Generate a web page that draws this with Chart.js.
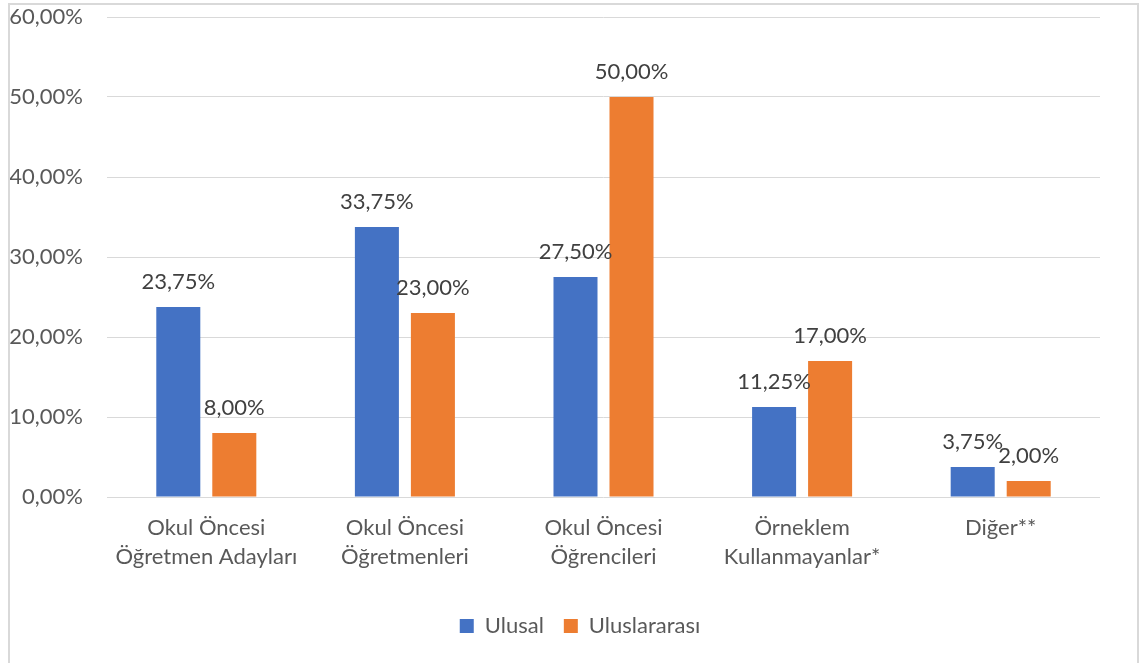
<!DOCTYPE html>
<html lang="tr">
<head>
<meta charset="utf-8">
<title>Ulusal / Uluslararası</title>
<script src="https://cdn.jsdelivr.net/npm/chart.js@4/dist/chart.umd.min.js"></script>
<style>
    html, body { margin: 0; padding: 0; background: #fff; }
    #wrap { position: relative; width: 1143px; height: 663px; overflow: hidden; }
    #frame {
        position: absolute; left: 8px; top: 3px; width: 1131px; height: 700px;
        border: 2px solid #d9d9d9; box-sizing: border-box; pointer-events: none;
    }
    canvas { position: absolute; left: 0; top: 0; }
</style>
</head>
<body>
<div id="wrap">
    <canvas id="barChart" width="1143" height="663"></canvas>
    <div id="frame"></div>
</div>
<script>
const categories = [
    ['Okul Öncesi', 'Öğretmen Adayları'],
    ['Okul Öncesi', 'Öğretmenleri'],
    ['Okul Öncesi', 'Öğrencileri'],
    ['Örneklem', 'Kullanmayanlar*'],
    'Diğer**'
];
const ulusal = [23.75, 33.75, 27.5, 11.25, 3.75];
const uluslararasi = [8, 23, 50, 17, 2];

const FONT = 'Lato, "Open Sans", sans-serif';

// yüzde biçimi: 23,75%
function pct(v) {
    return v.toFixed(2).replace('.', ',') + '%';
}

// çubukların üstüne değer yazısı
const valueLabels = {
    id: 'valueLabels',
    afterDatasetsDraw(chart) {
        const ctx = chart.ctx;
        ctx.save();
        ctx.font = '22px ' + FONT;
        ctx.fillStyle = '#404040';
        ctx.textAlign = 'center';
        ctx.textBaseline = 'middle';
        chart.data.datasets.forEach((ds, i) => {
            chart.getDatasetMeta(i).data.forEach((bar, j) => {
                ctx.fillText(pct(ds.data[j]), bar.x, bar.y - 25);
            });
        });
        ctx.restore();
    }
};

// lejantı çerçevenin ortasına kaydır
const legendShift = {
    id: 'legendShift',
    afterLayout(chart) {
        chart.legend.left += 25;
        chart.legend.right += 25;
    }
};

const ctx = document.getElementById('barChart').getContext('2d');
const barChart = new Chart(ctx, {
    type: 'bar',
    data: {
        labels: categories,
        datasets: [{
            label: 'Ulusal',
            data: ulusal,
            backgroundColor: '#4472C4'
        }, {
            label: 'Uluslararası',
            data: uluslararasi,
            backgroundColor: '#ED7D31'
        }]
    },
    options: {
        responsive: false,
        animation: false,
        categoryPercentage: 0.564,
        barPercentage: 0.786,
        layout: {
            padding: { left: 10, right: 43, top: 17, bottom: 16 }
        },
        scales: {
            x: {
                grid: { display: false, drawTicks: false },
                border: { display: false },
                ticks: {
                    color: '#595959',
                    font: { family: FONT, size: 22, lineHeight: 1.32 },
                    padding: 16,
                    maxRotation: 0
                },
                afterFit(scale) {
                    scale.height = 98;
                    scale.paddingLeft = 0;
                    scale.paddingRight = 0;
                }
            },
            y: {
                min: 0,
                max: 60,
                grid: { color: '#d9d9d9', lineWidth: 1, drawTicks: false },
                border: { display: false },
                ticks: {
                    stepSize: 10,
                    color: '#595959',
                    font: { family: FONT, size: 22 },
                    padding: 24,
                    callback: v => pct(v)
                },
                afterFit(scale) {
                    scale.width = 97;
                    scale.paddingTop = 0;
                    scale.paddingBottom = 0;
                }
            }
        },
        plugins: {
            legend: {
                position: 'bottom',
                labels: {
                    color: '#595959',
                    font: { family: FONT, size: 22 },
                    boxWidth: 14,
                    boxHeight: 14,
                    padding: 20
                }
            },
            tooltip: { enabled: false }
        }
    },
    plugins: [valueLabels, legendShift]
});
</script>
</body>
</html>
